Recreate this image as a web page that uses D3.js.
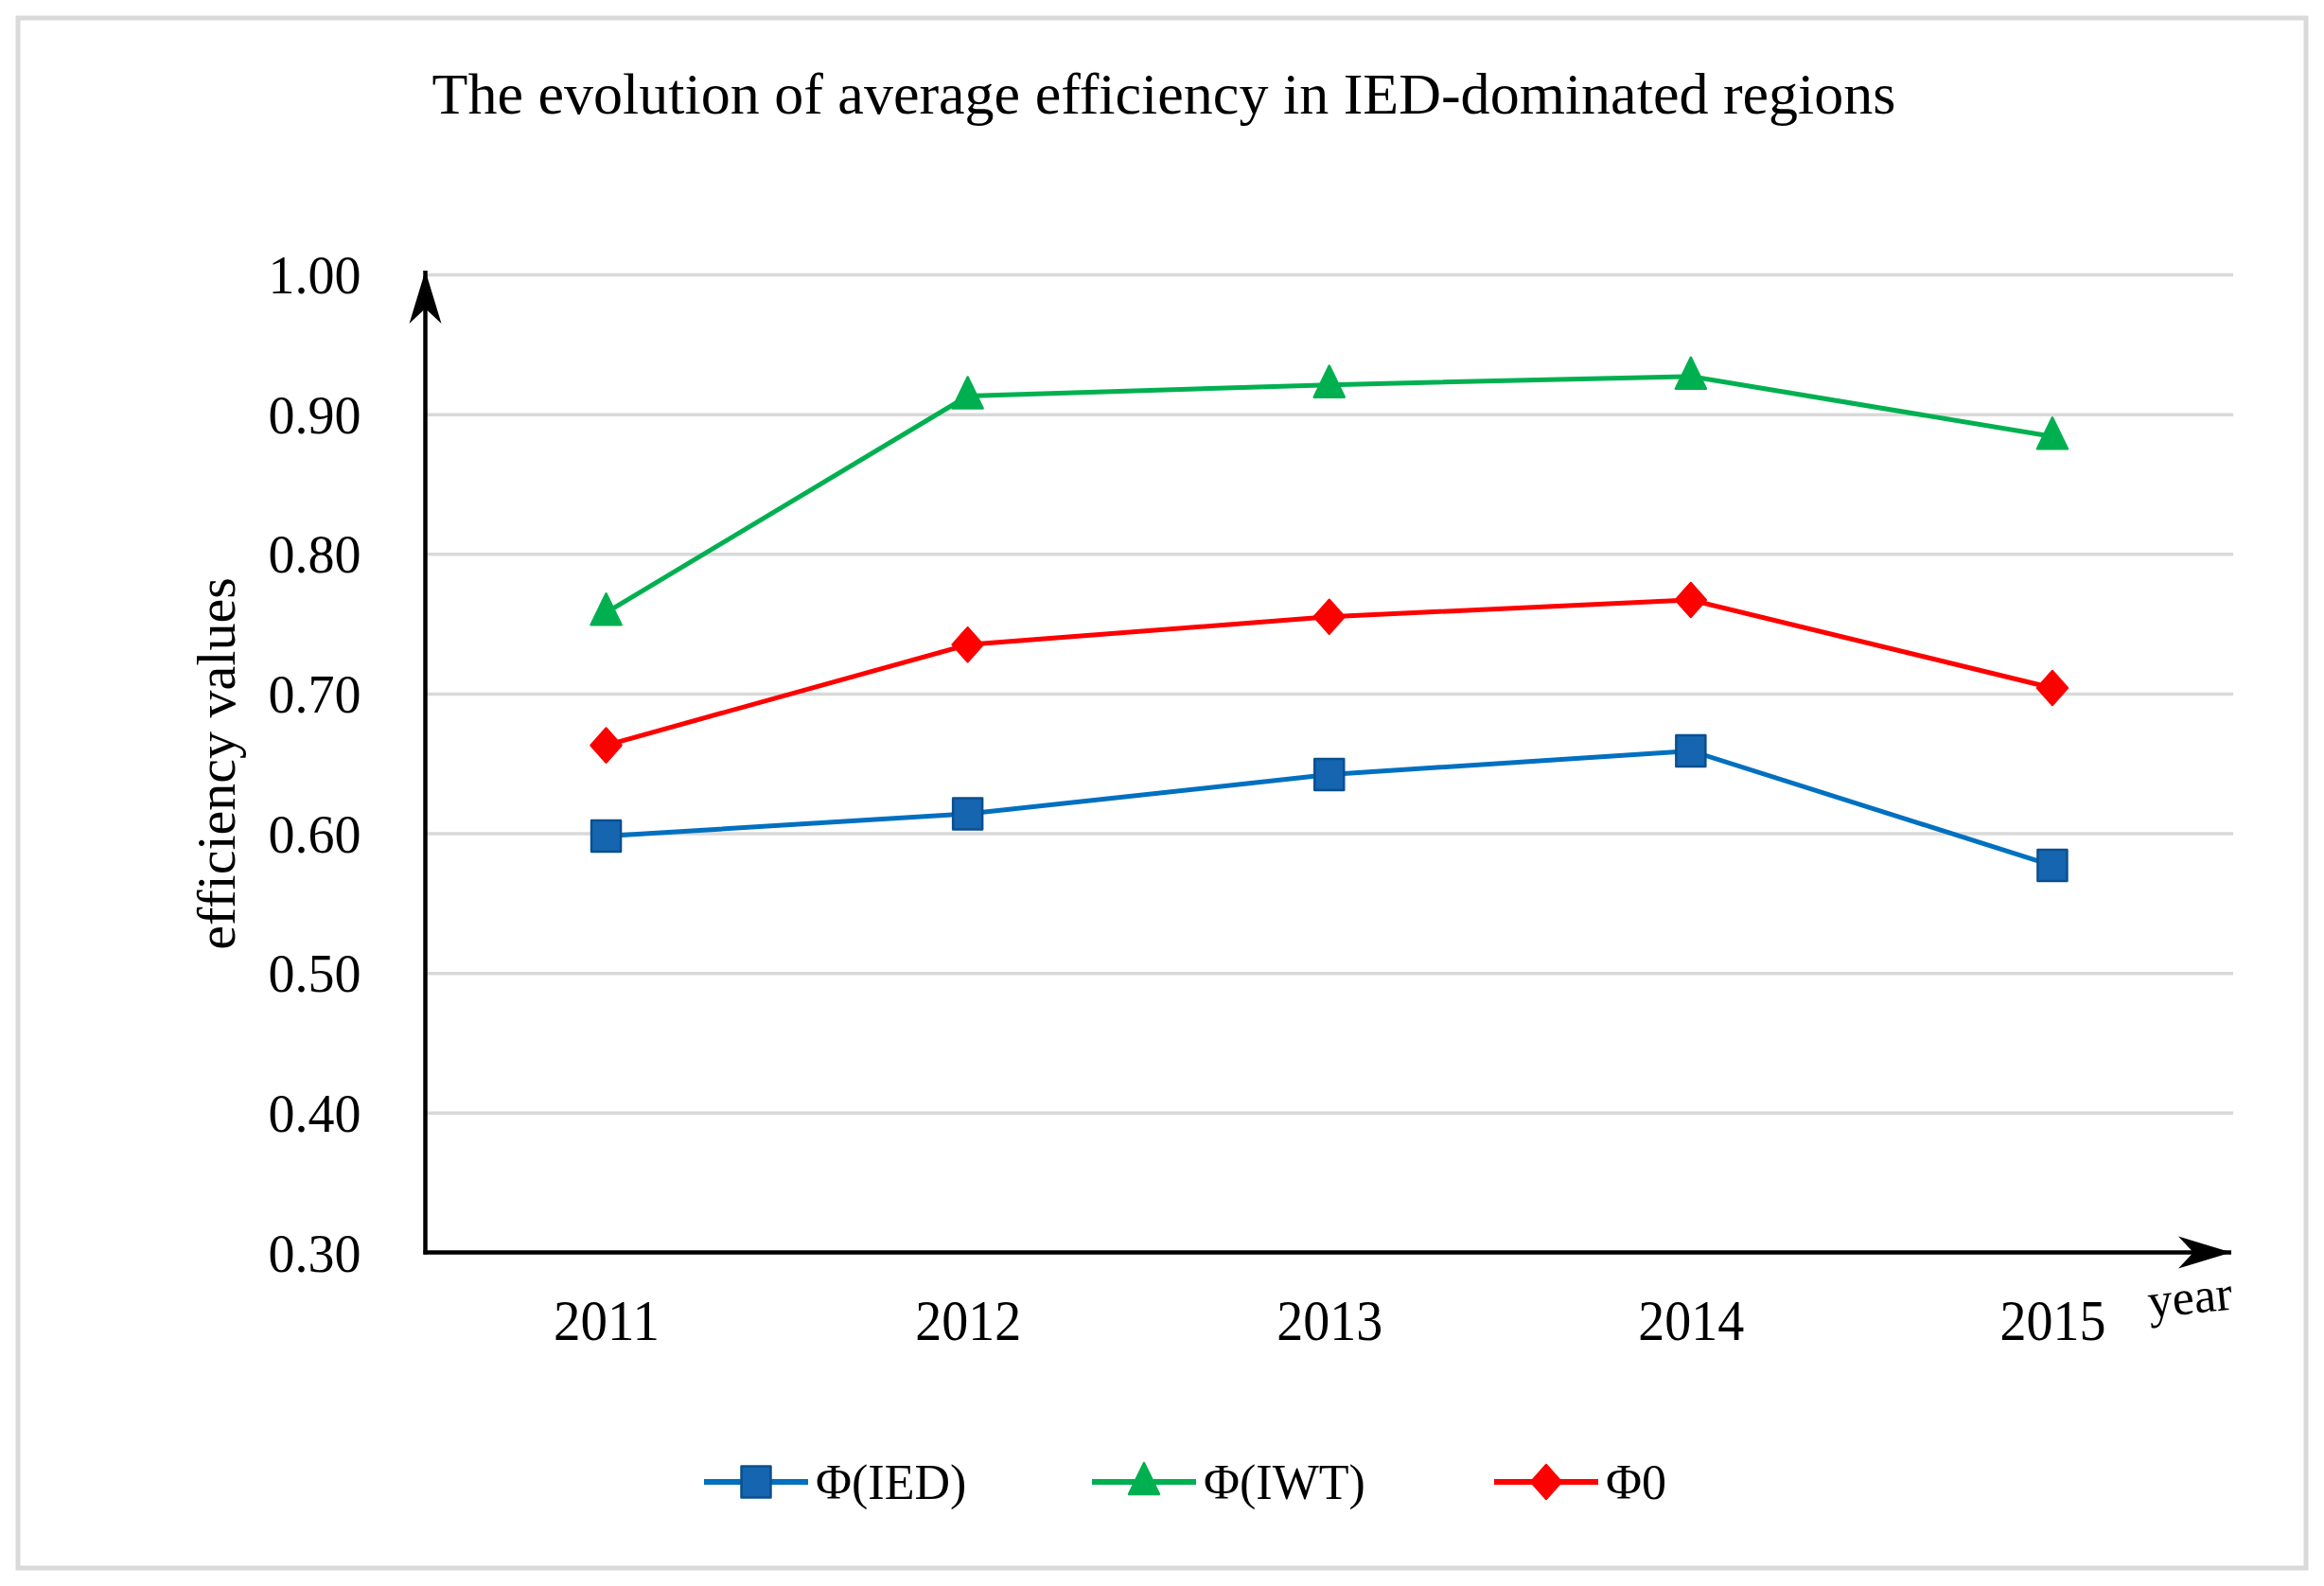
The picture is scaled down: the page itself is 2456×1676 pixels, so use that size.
<!DOCTYPE html>
<html><head><meta charset="utf-8">
<script src="https://cdn.jsdelivr.net/npm/d3@7"></script>
<style>body{margin:0;background:#fff}svg{display:block}text{font-family:"Liberation Serif","Times New Roman",serif;fill:#000}</style>
</head><body><svg id="c" width="2456" height="1676"></svg>
<script>
const years = ["2011","2012","2013","2014","2015"];
const yTicks = [0.30,0.40,0.50,0.60,0.70,0.80,0.90,1.00];
const seriesNames = ["Φ(IED)","Φ(IWT)","Φ0"];
const ied = [0.598,0.614,0.642,0.659,0.577];
const iwt = [0.758,0.913,0.921,0.927,0.884];
const phi0 = [0.663,0.735,0.755,0.767,0.704];

const svg = d3.select("#c");
svg.append("rect").attr("x",19).attr("y",19).attr("width",2418).attr("height",1638)
  .attr("fill","#fff").attr("stroke","#d9d9d9").attr("stroke-width",5);

const x0=449.5,x1=2360,yTop=290,yBot=1323.5;
const x = d3.scalePoint().domain(years).range([x0,x1]).padding(0.5);
const y = d3.scaleLinear().domain([0.30,1.00]).range([yBot,yTop]);

svg.append("text").attr("x",1230).attr("y",120).attr("text-anchor","middle")
  .attr("font-size",62).attr("textLength",1547).attr("lengthAdjust","spacingAndGlyphs")
  .text("The evolution of average efficiency in IED-dominated regions");

const yAxisG = svg.append("g").attr("transform",`translate(${x0},0)`)
  .call(d3.axisLeft(y).tickValues(yTicks).tickFormat(d3.format(".2f")).tickSize(-(x1-x0)).tickPadding(68));
yAxisG.select(".domain").remove();
yAxisG.selectAll(".tick line").attr("stroke","#d9d9d9").attr("stroke-width",3.5);
yAxisG.selectAll(".tick text").attr("font-size",56).attr("font-family","Liberation Serif").attr("dy","0.35em");
yAxisG.selectAll(".tick").filter(d=>d===0.30).select("line").remove();

const xAxisG = svg.append("g").attr("transform",`translate(0,${yBot})`)
  .call(d3.axisBottom(x).tickSize(0).tickPadding(48));
xAxisG.select(".domain").remove();
xAxisG.selectAll(".tick text").attr("font-size",62).attr("font-family","Liberation Serif")
  .attr("textLength",112).attr("lengthAdjust","spacingAndGlyphs");

// arrow heads
const defs = svg.append("defs");
defs.append("marker").attr("id","arr").attr("viewBox","-60 -20 64 40").attr("refX",0).attr("refY",0)
  .attr("markerWidth",64).attr("markerHeight",40).attr("markerUnits","userSpaceOnUse").attr("orient","auto")
  .append("path").attr("d","M0,0 L-56,-17 L-40,0 L-56,17 Z").attr("fill","#000");
svg.append("line").attr("x1",x0).attr("y1",yBot+2).attr("x2",x0).attr("y2",yTop-4)
  .attr("stroke","#000").attr("stroke-width",4.5).attr("marker-end","url(#arr)");
svg.append("line").attr("x1",x0-2).attr("y1",yBot).attr("x2",x1-2).attr("y2",yBot)
  .attr("stroke","#000").attr("stroke-width",4.5).attr("marker-end","url(#arr)");

svg.append("text").attr("x",2316).attr("y",1388).attr("text-anchor","middle")
  .attr("font-size",52).attr("transform","rotate(-6,2316,1388)").text("year");

svg.append("text").attr("transform","translate(248,807) rotate(-90)").attr("text-anchor","middle")
  .attr("font-size",58).text("efficiency values");

const colors = ["#0070C0","#00B050","#FF0000"];
const data = [ied,iwt,phi0];
const shapes = [
  "M-15.5,-16.5 H15.5 V16.5 H-15.5 Z",
  "M0,-20 L16,13 L-16,13 Z",
  "M0,-18 L16,0 L0,18 L-16,0 Z"
];
const fills = ["#1565B0","#00B050","#FF0000"];
const strokes = ["#0B4F8F","#00B050","#FF0000"];
const line = d3.line().x((d,i)=>x(years[i])).y(d=>y(d));

data.forEach((vals,k)=>{
  svg.append("path").datum(vals).attr("d",line).attr("fill","none")
    .attr("stroke",colors[k]).attr("stroke-width",5);
  svg.selectAll(null).data(vals).enter().append("path")
    .attr("d",shapes[k])
    .attr("transform",(d,i)=>`translate(${x(years[i])},${y(d)})`)
    .attr("fill",fills[k]).attr("stroke",strokes[k]).attr("stroke-width",2.5).attr("stroke-linejoin","round");
});

const legX = [744,1154,1579];
const legY = 1566;
seriesNames.forEach((n,k)=>{
  const g = svg.append("g").attr("transform",`translate(${legX[k]},${legY})`);
  g.append("line").attr("x1",0).attr("x2",110).attr("stroke",colors[k]).attr("stroke-width",6);
  g.append("path").attr("d",shapes[k])
    .attr("transform",`translate(55,0)`)
    .attr("fill",fills[k]).attr("stroke",strokes[k]).attr("stroke-width",2.5).attr("stroke-linejoin","round");
  g.append("text").attr("x",118).attr("y",0).attr("dy","0.35em").attr("font-size",52).text(n);
});
</script></body></html>
